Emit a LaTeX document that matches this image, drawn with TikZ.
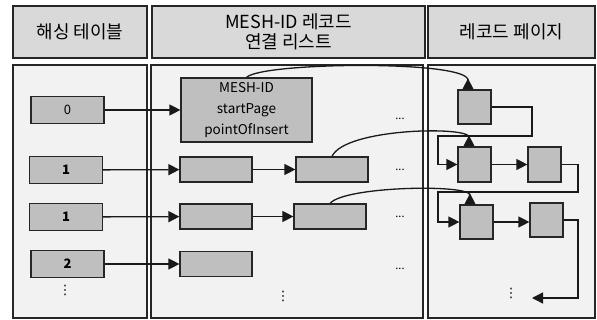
\documentclass[tikz,border=0pt]{standalone}
\usepackage{fontspec}
\setmainfont{Noto Sans CJK KR}
\newfontfamily\dotfont{DejaVu Sans}
\usetikzlibrary{arrows.meta}

\tikzset{
  colhead/.style={draw=black!85, line width=1.5pt, fill=black!15, minimum height=52pt, inner sep=0pt, align=center, font=\fontsize{18}{20}\selectfont},
  panel/.style={draw=black!85, line width=1.5pt, fill=black!5, minimum height=253pt, inner sep=0pt},
  slot/.style={draw=black!85, line width=1.2pt, fill=black!25, minimum width=73pt, minimum height=27pt, inner sep=0pt, font=\fontsize{13}{15}\selectfont\bfseries},
  rec/.style={draw=black!85, line width=1.2pt, fill=black!25, minimum width=72pt, minimum height=25pt, inner sep=0pt},
  pg/.style={draw=black!85, line width=1.2pt, fill=black!25, minimum width=33pt, minimum height=34pt, inner sep=0pt},
  link/.style={draw=black!90, line width=1.3pt, -{Triangle[length=11pt,width=11pt]}},
  jump/.style={draw=black!90, line width=1.3pt, -{Triangle[reversed,length=11pt,width=11pt]}},
  more/.style={inner sep=0pt, anchor=base, font=\fontsize{11}{11}\selectfont},
  vmore/.style={inner sep=0pt, font=\dotfont\fontsize{13}{13}\selectfont}
}

\begin{document}
\begin{tikzpicture}[x=1pt, y=-1pt]
\useasboundingbox (0,0) rectangle (597,320);

% column heads
\node[colhead, minimum width=134pt] (hash) at (80,32) {해싱 테이블};
\node[colhead, minimum width=273pt] (list) at (288.5,32) {MESH-ID 레코드\\연결 리스트};
\node[colhead, minimum width=167pt] (page) at (511.5,32) {레코드 페이지};

\node[panel, minimum width=134pt] (hashP) at (80,191.5) {};
\node[panel, minimum width=272pt] (listP) at (287,191.5) {};
\node[panel, minimum width=167pt] (pageP) at (511.5,191.5) {};

% hash table
\node[slot, font=\fontsize{13}{15}\selectfont] (k0) at (67.5,110) {0};
\node[slot] (k1) at (66,170) {1};
\node[slot] (k2) at (66,217) {1};
\node[slot] (k3) at (67.5,264) {2};
\node[vmore] (kdots) at (65,290) {⋮};

% record lists
\node[rec, minimum width=131pt, minimum height=64pt, align=center, font=\fontsize{13.5}{21}\selectfont] (m0) at (246.5,110) {MESH-ID\\startPage\\pointOfInsert};
\node[rec] (m1a) at (216,169.5) {};
\node[rec] (m1b) at (332,169.5) {};
\node[rec] (m2a) at (216,216.5) {};
\node[rec] (m2b) at (330,216.5) {};
\node[rec] (m3a) at (216,264) {};
\node[more] (d0) at (400,120) {...};
\node[more] (d1) at (400,171) {...};
\node[more] (d2) at (400,218) {...};
\node[more] (d3) at (400,270) {...};
\node[vmore] (mdots) at (283,296) {⋮};

% record pages
\node[pg] (pA) at (474.5,107) {};
\node[pg, minimum height=35pt] (r1a) at (474.5,164.5) {};
\node[pg, minimum height=35pt] (r1b) at (544.5,164.5) {};
\node[pg] (r2a) at (476.5,222) {};
\node[pg] (r2b) at (546.5,220) {};
\node[vmore] (pdots) at (511,293) {⋮};
\coordinate (pend) at (532,298);

\draw[link] (k0) -- (m0);
\draw[link] (k1) -- (m1a);
\draw[link] (k2) -- (m2a);
\draw[link] (k3) -- (m3a);
\draw[link] (m1a) -- (m1b);
\draw[link] (m2a) -- (m2b);

\draw[jump] (m0.north) .. controls (262,62) and (468,60) .. ([xshift=-6.5pt]pA.north);
\draw[jump] (m1b.north) .. controls (345,128) and (469,126) .. ([xshift=-5.5pt]r1a.north);
\draw[jump] (m2b.north) .. controls (345,186) and (470,184) .. ([xshift=-6.5pt]r2a.north);

\draw[link] (pA.east) -- (532,107) -- (532,136) -- (438,136) |- (r1a.west);
\draw[link] (r1a) -- (r1b);
\draw[link] (r1b.east) -- (578,164.5) -- (578,192) -- (438,192) |- (r2a.west);
\draw[link] (r2a.east) -- (r2a.east -| r2b.west);
\draw[link] (r2b.east) -- (578,220) |- (pend);
\end{tikzpicture}
\end{document}
